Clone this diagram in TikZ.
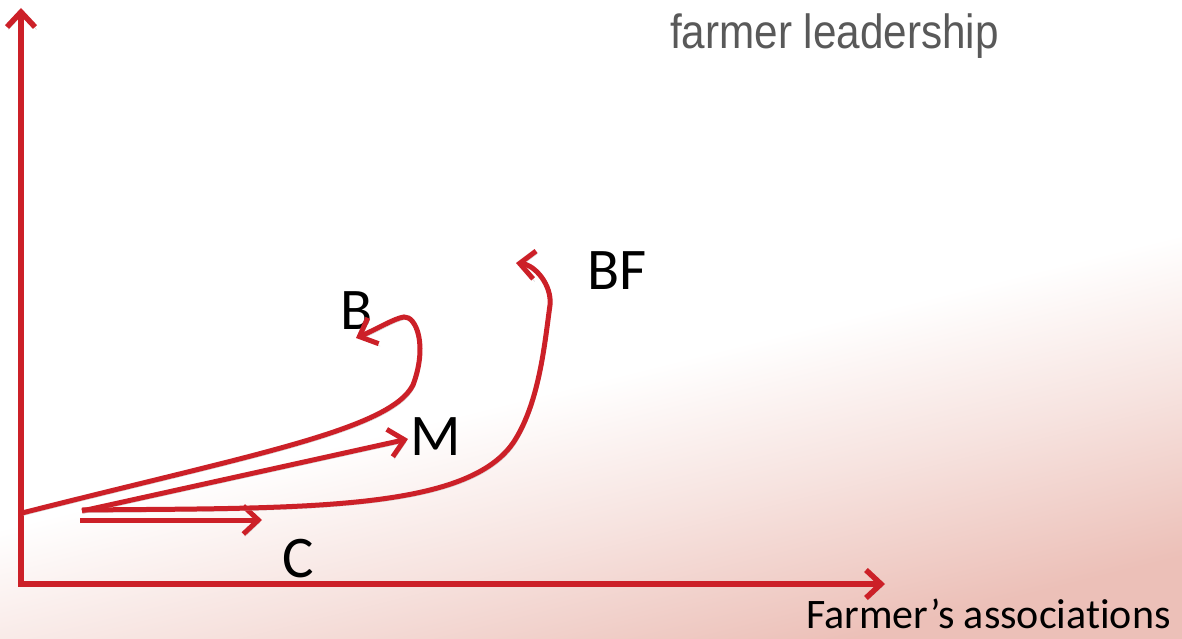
\documentclass[tikz,border=0pt]{standalone}
\usepackage{fontspec}
\setmainfont[Ligatures=NoCommon]{Carlito}
\newfontfamily\headfont[FakeStretch=0.88]{Liberation Sans}
\usetikzlibrary{arrows.meta}

\definecolor{linered}{RGB}{204,32,40}
\definecolor{titlegray}{RGB}{89,89,89}
\definecolor{bgpink}{RGB}{236,192,184}
\pgfdeclareverticalshading{bgfade}{100bp}{color(0bp)=(bgpink); color(25bp)=(bgpink); color(36bp)=(bgpink!45!white); color(46bp)=(white); color(100bp)=(white)}

\begin{document}
\begin{tikzpicture}[x=1pt, y=-1pt, >={Straight Barb[length=15pt,width=28pt]},
        % Styles
        shadowed/.style={preaction={draw=black!20, transform canvas={xshift=1.5pt, yshift=-2.5pt}}},
        trend/.style={draw=linered, line width=5pt, ->, shadowed},
        axis/.style={draw=linered, line width=5.5pt, <->, shadowed},
        lbl/.style={anchor=base west, inner sep=0pt, font=\fontsize{59}{60}\selectfont}
    ]

    % --- Background ---
    \shade[shading=bgfade, shading angle=14] (0,0) rectangle (1182,639);
    \useasboundingbox (0,0) rectangle (1182,639);

    % --- Axes ---
    \coordinate (origin) at (21,584);
    \coordinate (ytip) at (21,8);
    \coordinate (xtip) at (885,584);
    \draw[axis] (ytip) -- (origin) -- (xtip);

    % --- Axis labels ---
    \node[anchor=base west, inner sep=0pt, text depth=0pt, text=titlegray, font=\headfont\fontsize{48}{50}\selectfont] (ylabel) at (670,49) {farmer leadership};
    \node[anchor=base west, inner sep=0pt, text depth=0pt, font=\fontsize{42}{44}\selectfont] (xlabel) at (806,628) {Farmer’s associations};

    % --- Path labels ---
    \node[lbl] (lblB) at (340,329) {B};
    \node[lbl] (lblM) at (410,455) {M};
    \node[lbl] (lblC) at (282,577) {C};
    \node[lbl] (lblBF) at (587,289) {BF};

    % --- Start and end points ---
    \coordinate (startB) at (22,513);
    \coordinate (endB) at (356,338);
    \coordinate (startM) at (82,511);
    \coordinate (endM) at (408,439);
    \coordinate (startC) at (80,520);
    \coordinate (endC) at (262,520);
    \coordinate (startBF) at (82,510);
    \coordinate (endBF) at (516,263);

    % --- Trajectories ---
    \draw[trend] (startB) .. controls (250,455) and (390,430) .. (413,385)
        .. controls (428,345) and (416,316) .. (404,317)
        .. controls (395,318) and (375,330) .. (endB);
    \draw[trend] (startM) -- (endM);
    \draw[trend] (startC) -- (endC);
    \draw[trend] (startBF) .. controls (300,508) and (470,512) .. (515,440)
        .. controls (540,400) and (545,340) .. (550,305)
        .. controls (552,285) and (535,265) .. (endBF);

\end{tikzpicture}
\end{document}
